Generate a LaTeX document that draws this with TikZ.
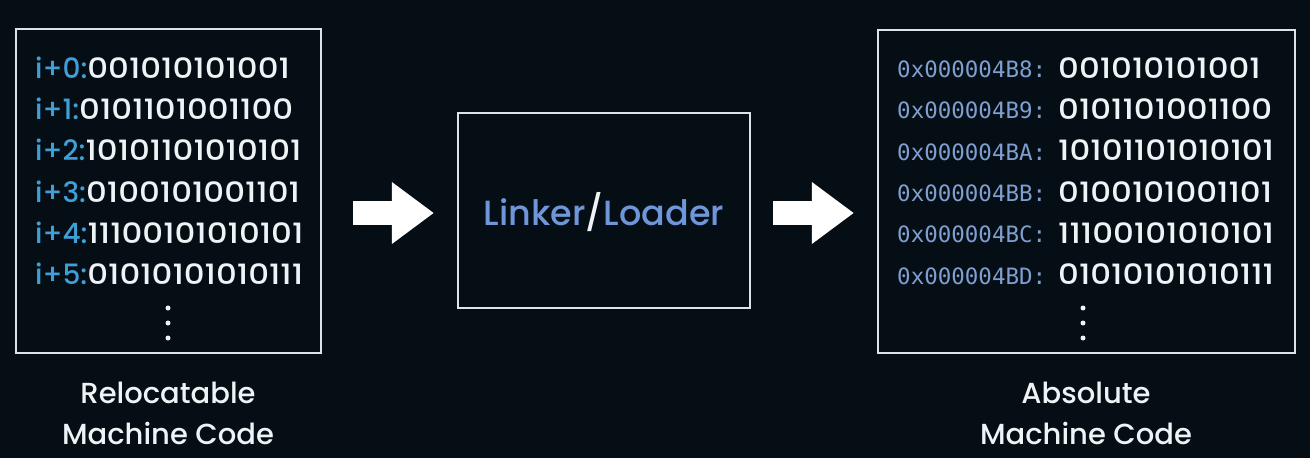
\documentclass[tikz,border=0pt]{standalone}
\usepackage{fontspec}
\setmainfont{Poppins Medium}[Numbers=Proportional]
\newfontfamily\hexfont{DejaVu Sans Mono}
\usetikzlibrary{arrows.meta}
\definecolor{bg}{HTML}{050D15}
\definecolor{fg}{HTML}{EEF3F5}
\definecolor{edge}{HTML}{DDE4E8}
\definecolor{ablue}{HTML}{3FA0D8}
\definecolor{hexblue}{HTML}{7F9FD0}
\definecolor{lblue}{HTML}{6F96D8}
\newcommand{\bits}[1]{\scalebox{1.16}[1]{#1}}
\tikzset{
  box/.style={draw=edge, line width=2.2pt, fill=bg, inner sep=0pt},
  coderow/.style={text=fg, anchor=base west, inner sep=0pt, font=\fontsize{28}{34}\selectfont},
  hexrow/.style={text=hexblue, anchor=base west, inner sep=0pt, font=\hexfont\fontsize{22.5}{27}\selectfont},
  caption/.style={text=fg, anchor=base, inner sep=0pt, font=\fontsize{29}{36}\selectfont},
  bigarrow/.style={draw=white, line width=24pt, -{Triangle[length=42pt,width=59pt]}},
  vdot/.style={fill=fg, circle, inner sep=0pt, minimum size=5pt},
}
\begin{document}
\begin{tikzpicture}[x=1pt,y=-1pt]
\fill[bg] (0,0) rectangle (1310,458);
\useasboundingbox (0,0) rectangle (1310,458);
% boxes
\node[box, minimum width=305pt, minimum height=324pt] (src) at (168.5,191) {};
\node[box, minimum width=292pt, minimum height=195pt] (mid) at (604,210.5) {};
\node[box, minimum width=417pt, minimum height=323pt] (dst) at (1086.5,191.5) {};
\coordinate (ay) at (0,213);
% left rows
\node[coderow] (s0) at (35,78.3) {\textcolor{ablue}{i+0:}\bits{001010101001}};
\node[coderow] (s1) at (35,119.6) {\textcolor{ablue}{i+1:}\bits{0101101001100}};
\node[coderow] (s2) at (35,160.9) {\textcolor{ablue}{i+2:}\bits{10101101010101}};
\node[coderow] (s3) at (35,202.2) {\textcolor{ablue}{i+3:}\bits{0100101001101}};
\node[coderow] (s4) at (35,243.5) {\textcolor{ablue}{i+4:}\bits{11100101010101}};
\node[coderow] (s5) at (35,284.8) {\textcolor{ablue}{i+5:}\bits{01010101010111}};
\node[vdot] (sd1) at (168,308) {};
\node[vdot] (sd2) at (168,323) {};
\node[vdot] (sd3) at (168,338) {};
% right rows
\node[hexrow] (h0) at (897,77.5) {0x000004B8:};
\node[hexrow] (h1) at (897,118.8) {0x000004B9:};
\node[hexrow] (h2) at (897,160.1) {0x000004BA:};
\node[hexrow] (h3) at (897,201.4) {0x000004BB:};
\node[hexrow] (h4) at (897,242.7) {0x000004BC:};
\node[hexrow] (h5) at (897,284.0) {0x000004BD:};
\node[coderow] (b0) at (1058,78.3) {\bits{001010101001}};
\node[coderow] (b1) at (1058,119.6) {\bits{0101101001100}};
\node[coderow] (b2) at (1058,160.9) {\bits{10101101010101}};
\node[coderow] (b3) at (1058,202.2) {\bits{0100101001101}};
\node[coderow] (b4) at (1058,243.5) {\bits{11100101010101}};
\node[coderow] (b5) at (1058,284.8) {\bits{01010101010111}};
\node[vdot] (dd1) at (1083,308) {};
\node[vdot] (dd2) at (1083,323) {};
\node[vdot] (dd3) at (1083,338) {};
% middle text
\node[text=lblue, inner sep=0pt, anchor=base, font=\fontsize{35}{40}\selectfont] (lk) at (604,225) {Linker\textcolor{fg}{/}Loader};
% captions
\node[caption] (c1) at (168,403) {Relocatable};
\node[caption] (c2) at (168,444) {Machine Code};
\node[caption] (c3) at (1086,403) {Absolute};
\node[caption] (c4) at (1086,444) {Machine Code};
% arrows
\draw[bigarrow, shorten <=31pt, shorten >=23pt] (src.east |- ay) -- (mid.west |- ay);
\draw[bigarrow, shorten <=22pt, shorten >=23pt] (mid.east |- ay) -- (dst.west |- ay);
\end{tikzpicture}
\end{document}
